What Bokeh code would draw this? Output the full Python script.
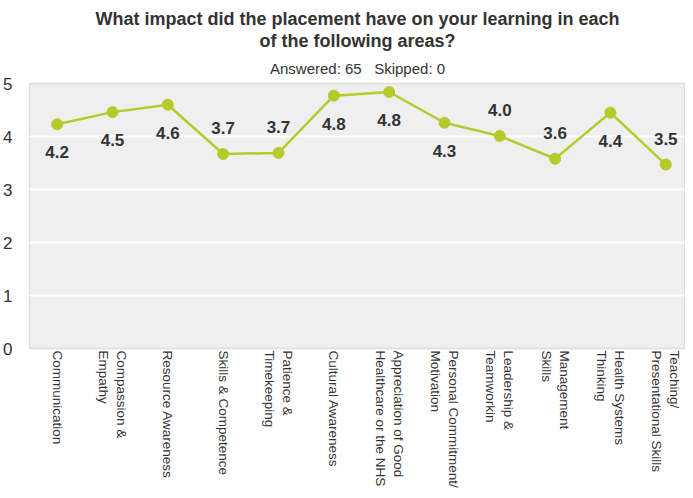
import math
from bokeh.plotting import figure
from bokeh.models import Range1d, ColumnDataSource, Title, FixedTicker
from bokeh.core.properties import value
from bokeh.embed import file_html
from bokeh.resources import INLINE

categories = [
    "Communication",
    "Compassion &\nEmpathy",
    "Resource Awareness",
    "Skills & Competence",
    "Patience &\nTimekeeping",
    "Cultural Awareness",
    "Appreciation of Good\nHealthcare or the NHS",
    "Personal Commitment/\nMotivation",
    "Leadership &\nTeamworkin",
    "Management\nSkills",
    "Health Systems\nThinking",
    "Teaching/\nPresentational Skills",
]
scores = [4.23, 4.46, 4.60, 3.67, 3.69, 4.77, 4.84, 4.26, 4.01, 3.58, 4.45, 3.47]
score_labels = ["4.2", "4.5", "4.6", "3.7", "3.7", "4.8", "4.8", "4.3", "4.0", "3.6", "4.4", "3.5"]
label_side = ["below", "below", "below", "above", "above", "below",
              "below", "below", "above", "above", "below", "above"]
y_ticks = [0, 1, 2, 3, 4, 5]

title_line1 = "What impact did the placement have on your learning in each"
title_line2 = "of the following areas?"
subtitle = "Answered: 65\u00a0\u00a0\u00a0Skipped: 0"

FONT = "Liberation Sans"
TXT = "#333333"
GREEN = "#b6cb2b"

xs = list(range(len(categories)))
offsets = [28 if s == "below" else -26 for s in label_side]
src = ColumnDataSource(dict(x=xs, y=scores, lab=score_labels, off=offsets))

p = figure(
    width=685, height=490,
    x_range=Range1d(-0.5, 11.357), y_range=Range1d(0, 5),
    output_backend="svg", toolbar_location=None, title=None,
    min_border_left=21, min_border_right=0, min_border_top=74, min_border_bottom=140,
    background_fill_color="#efefef", border_fill_color="white",
)
p.outline_line_color = "#dddddd"
p.outline_line_width = 1.5

# titles (innermost first)
p.add_layout(Title(text=subtitle, align="center", text_font=FONT, text_font_size="15px",
                   text_font_style="normal", text_color=TXT, standoff=13), "above")
p.add_layout(Title(text=title_line2, align="center", text_font=FONT, text_font_size="18px",
                   text_font_style="bold", text_color=TXT, standoff=1), "above")
p.add_layout(Title(text=title_line1, align="center", text_font=FONT, text_font_size="18px",
                   text_font_style="bold", text_color=TXT, standoff=0), "above")
p.add_layout(Title(text="\u00a0", align="center", text_font=FONT, text_font_size="1px",
                   text_color="white", standoff=3), "above")

# grid
p.xgrid.grid_line_color = None
p.ygrid.grid_line_color = "white"
p.ygrid.grid_line_width = 2
p.ygrid.ticker = FixedTicker(ticks=y_ticks)

for ax in (p.xaxis[0], p.yaxis[0]):
    ax.axis_line_color = None
    ax.major_tick_line_color = None
    ax.minor_tick_line_color = None
    ax.major_tick_out = 0
    ax.major_tick_in = 0
    ax.minor_tick_out = 0
    ax.minor_tick_in = 0
    ax.major_label_text_font = FONT
    ax.major_label_text_color = TXT

# y axis
p.yaxis.ticker = FixedTicker(ticks=y_ticks)
p.yaxis.major_label_standoff = 17
p.yaxis.major_label_text_align = "center"
p.yaxis.major_label_text_font_size = "17px"

# x axis
p.xaxis.ticker = FixedTicker(ticks=xs)
p.xaxis.major_label_overrides = {i: c for i, c in zip(xs, categories)}
p.xaxis.major_label_orientation = -math.pi / 2
p.xaxis.major_label_standoff = 2
p.xaxis.major_label_text_font_size = "13.5px"

p.line("x", "y", source=src, line_color=GREEN, line_width=2.5)
p.scatter("x", "y", source=src, size=11, fill_color=GREEN, line_color=GREEN)
p.text("x", "y", text="lab", source=src, y_offset="off",
       text_font=value(FONT), text_font_style="bold", text_font_size=value("17px"),
       text_color=TXT, text_align="center", text_baseline="middle")

open("out.html", "w").write(file_html(p, INLINE))
